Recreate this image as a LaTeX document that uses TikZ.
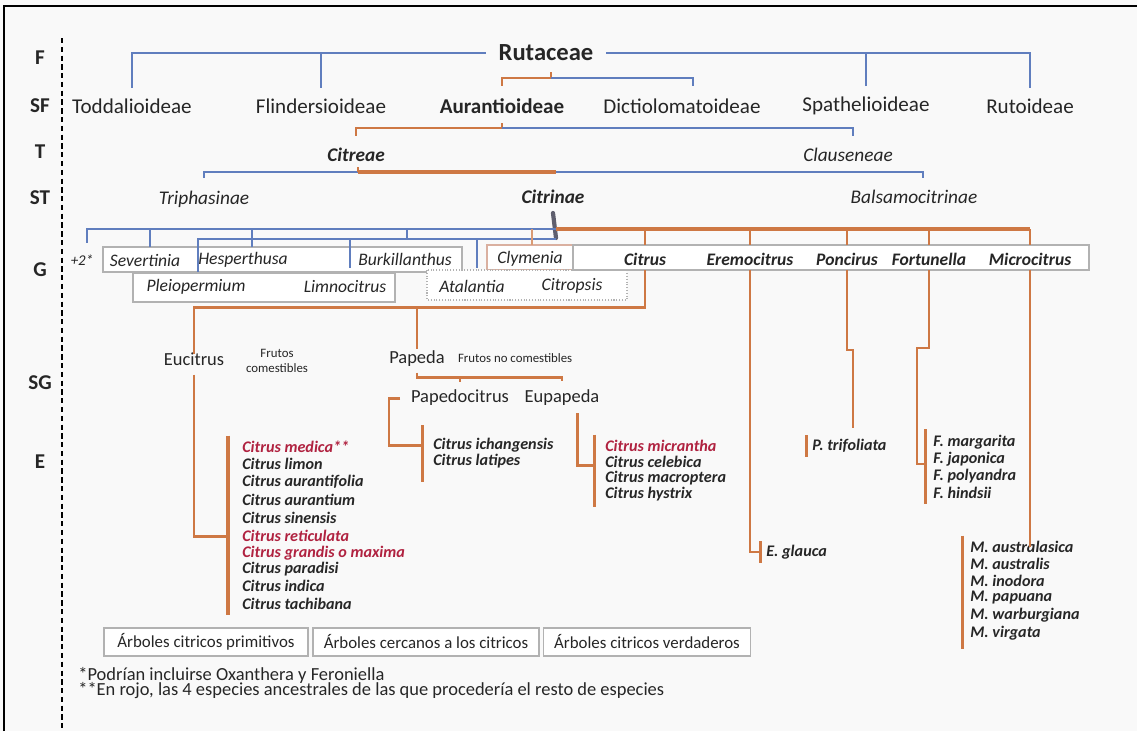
\documentclass[tikz,border=0pt]{standalone}
\usepackage{fontspec}
\setmainfont{Carlito}
\usetikzlibrary{positioning}

\definecolor{treeblue}{RGB}{96,126,190}
\definecolor{treeorange}{RGB}{206,120,68}
\definecolor{ancestral}{RGB}{176,34,64}
\definecolor{ink}{RGB}{38,38,38}
\definecolor{boxgray}{RGB}{178,178,178}
\definecolor{clymtan}{RGB}{218,176,160}
\definecolor{paper}{RGB}{249,249,249}
\definecolor{stemgray}{RGB}{95,95,110}

\tikzset{
	bl/.style={treeblue, line width=1.1pt},
	ol/.style={treeorange, line width=1pt},
	olthick/.style={treeorange, line width=1.7pt},
	sbar/.style={treeorange, line width=1.8pt},
	rowlab/.style={text=ink, font=\fontsize{12}{14}\selectfont\bfseries},
	famname/.style={text=ink, inner sep=7pt, font=\fontsize{14}{16}\selectfont\bfseries},
	subfam/.style={text=ink, inner sep=2pt, font=\fontsize{12}{14}\selectfont},
	tribe/.style={text=ink, inner sep=2pt, font=\fontsize{11}{13}\selectfont\itshape},
	genus/.style={text=ink, inner sep=1pt, font=\fontsize{10}{12}\selectfont\itshape},
	truegenus/.style={text=ink, inner sep=1pt, font=\fontsize{10}{12}\selectfont\bfseries\itshape},
	subgen/.style={text=ink, inner sep=2pt, font=\fontsize{10.5}{12}\selectfont},
	fruitnote/.style={text=ink, inner sep=1pt, align=center, font=\fontsize{7.3}{8.5}\selectfont},
	species/.style={text=ink, anchor=west, inner sep=0pt, font=\fontsize{9.2}{11}\selectfont\bfseries\itshape},
	genbox/.style={draw=boxgray, fill=white, line width=0.6pt},
	groupbox/.style={draw=boxgray, fill=white, line width=0.7pt, minimum height=0.56cm, inner sep=0pt, text=ink, font=\fontsize{9.6}{11}\selectfont},
	fnote/.style={text=ink, anchor=west, inner sep=0pt, font=\fontsize{10.5}{12}\selectfont},
}

\begin{document}
\begin{tikzpicture}[x=0.02cm,y=-0.02cm]
	\useasboundingbox (0,0) rectangle (1137,731);
	\fill[paper] (0,0) rectangle (1137,731);
	\draw[line width=1.6pt] (4,731) -- (4,6) -- (1137,6);
	\draw[line width=1.3pt, dash pattern=on 3pt off 2pt] (62,38) -- (62,731);
	\foreach \y/\t in {58/F,106/SF,152/T,198/ST,270/G,383/SG,462/E}
		\node[rowlab] (lab\t) at (40,\y) {\t};
	
	\node[famname] (rutaceae) at (546,53) {Rutaceae};
	\node[subfam] (toddal) at (132,106) {Toddalioideae};
	\node[subfam] (flinder) at (321,106) {Flindersioideae};
	\node[subfam, font=\fontsize{12}{14}\selectfont\bfseries] (auranti) at (502,106) {Aurantioideae};
	\node[subfam] (dictio) at (682,106) {Dictiolomatoideae};
	\node[subfam] (spathe) at (866,106) {Spathelioideae};
	\node[subfam] (rutoid) at (1030,106) {Rutoideae};
	\foreach \n in {toddal,flinder}
		\draw[bl] ([yshift=4pt]\n.north) |- (rutaceae.west);
	\foreach \n in {spathe,rutoid}
		\draw[bl] ([yshift=4pt]\n.north) |- (rutaceae.east);
	
	\coordinate (sfjoin) at (551,78);
	\draw[ol] ([yshift=5pt]auranti.north) |- (sfjoin) -- ++(0,-6);
	\draw[bl] (sfjoin) -| ([xshift=6pt,yshift=5pt]dictio.north);
	
	\node[tribe, font=\fontsize{11}{13}\selectfont\bfseries\itshape] (citreae) at (356,155) {Citreae};
	\node[tribe] (clausen) at (848,155) {Clauseneae};
	\coordinate (tjoin) at (502,128);
	\draw[ol] ([yshift=5pt]citreae.north) |- (tjoin) -- ++(0,-5);
	\draw[bl] (tjoin) -| ([xshift=3pt,yshift=5pt]clausen.north);
	
	\node[tribe] (triph) at (204,199) {Triphasinae};
	\node[tribe, font=\fontsize{11}{13}\selectfont\bfseries\itshape] (citrinae) at (553,197) {Citrinae};
	\node[tribe] (balsam) at (914,197) {Balsamocitrinae};
	\coordinate (stleft) at (358,172);
	\coordinate (stright) at (556,172);
	\draw[bl] ([yshift=5pt]triph.north) |- (stleft);
	\draw[treeorange, line width=2.2pt] (stleft) -- (stright);
	\draw[ol] (stleft) -- ++(0,-5);
	\draw[bl] (stright) -| ([xshift=5pt,yshift=5pt]balsam.north);
	\draw[stemgray, line width=2.4pt, line cap=round] ([yshift=-3pt]citrinae.south) -- (556,238);
	
	\draw[genbox] (103,247) rectangle (462,272);
	\draw[genbox] (133,273) rectangle (395,302);
	\draw[genbox, draw=clymtan] (487,245) rectangle (573,270);
	\draw[genbox, densely dotted] (427,270) rectangle (627,300);
	\draw[genbox] (573,245) rectangle (1089,270);
	\node[genus, font=\fontsize{8.5}{10}\selectfont\itshape] (plustwo) at (82,260) {+2*};
	\node[genus] (severt) at (145,260) {Severtinia};
	\node[genus] (hesper) at (243,260) {Hesperthusa};
	\node[genus] (burkill) at (405,259) {Burkillanthus};
	\node[genus] (pleio) at (196,287) {Pleiopermium};
	\node[genus] (limno) at (345,287) {Limnocitrus};
	\node[genus] (clymen) at (530,259) {Clymenia};
	\node[genus] (atalan) at (472,286) {Atalantia};
	\node[genus] (citrop) at (572,286) {Citropsis};
	\node[truegenus] (citrus) at (645,259) {Citrus};
	\node[truegenus] (eremo) at (750,259) {Eremocitrus};
	\node[truegenus] (poncirus) at (847,259) {Poncirus};
	\node[truegenus] (fortun) at (929,259) {Fortunella};
	\node[truegenus] (micro) at (1030,259) {Microcitrus};
	
	\coordinate (gjoin) at (556,229);
	\coordinate (gtop) at (0,245);
	\coordinate (gbot) at (0,270);
	\draw[bl] (gjoin) -- (87,229) -- (87,243);
	\foreach \x in {150,252}
		\draw[bl] (\x,229) -- (\x,247);
	\draw[bl] (407,229) -- (407,239);
	\draw[bl] (556,239) -- (198,239) -- (198,272);
	\draw[bl] (350,239) -- (350,268);
	\draw[bl] (477,239) -- (477,268);
	\draw[treeorange!75, line width=0.8pt] (532,229) -- (532,245);
	\draw[treeorange, line width=2pt] (gjoin) -- (micro |- gjoin);
	\foreach \g in {eremo,poncirus,fortun,micro}
		\draw[ol] (\g |- gjoin) -- (\g |- gtop);
	\draw[olthick] (citrus |- gjoin) -- (citrus |- gtop);
	
	\node[subgen] (eucitrus) at (194,359) {Eucitrus};
	\node[fruitnote] (eucnote) at (277,361) {Frutos\\comestibles};
	\node[subgen] (papeda) at (417,359) {Papeda};
	\node[fruitnote, anchor=west] (papnote) at (456,358) {Frutos no comestibles};
	\node[subgen] (papedo) at (460,398) {Papedocitrus};
	\node[subgen] (eupap) at (562,398) {Eupapeda};
	\coordinate (cjoin) at (645,307);
	\draw[olthick] (citrus |- gbot) -- (cjoin) -- (eucitrus |- cjoin) -- ([yshift=-3pt]eucitrus.north);
	\draw[olthick] (papeda |- cjoin) -- ([yshift=-1pt]papeda.north);
	
	\foreach \n/\y/\c/\t in {1/447/ancestral/Citrus medica**, 2/464/ink/Citrus limon, 3/482/ink/Citrus aurantifolia, 4/500/ink/Citrus aurantium, 5/518/ink/Citrus sinensis, 6/536/ancestral/Citrus reticulata, 7/553/ancestral/Citrus grandis o maxima, 8/569/ink/Citrus paradisi, 9/586/ink/Citrus indica, 10/604/ink/Citrus tachibana}
		\node[species, text=\c] (euc\n) at (242,\y) {\t};
	\draw[sbar] ([xshift=-8pt,yshift=3pt]euc1.north west) -- ([xshift=-8pt,yshift=-3pt]euc10.south west);
	\draw[olthick] ([yshift=-3pt]eucitrus.south) |- ([xshift=-8pt]euc6.west);
	
	\coordinate (pbar) at (0,377);
	\draw[olthick] ([yshift=-1pt]papeda.south) |- (eupap.north |- pbar) -- ([yshift=3pt]eupap.north);
	\draw[olthick] (papedo.north |- pbar) -- ++(0,5);
	
	\foreach \n/\y/\t in {1/445/Citrus ichangensis, 2/461/Citrus latipes}
		\node[species] (pap\n) at (433,\y) {\t};
	\coordinate (pdcorner) at (389,445);
	\draw[sbar] ([xshift=-6pt,yshift=7pt]pap1.north west) -- ([xshift=-6pt,yshift=-8pt]pap2.south west);
	\draw[olthick] ([xshift=-4pt]papedo.west) -| (pdcorner) -- ([xshift=-6pt]pap1.west);
	
	\foreach \n/\y/\c/\t in {1/446/ancestral/Citrus micrantha, 2/462/ink/Citrus celebica, 3/478/ink/Citrus macroptera, 4/494/ink/Citrus hystrix}
		\node[species, text=\c] (eup\n) at (605,\y) {\t};
	\draw[sbar] ([xshift=-6pt,yshift=3pt]eup1.north west) -- ([xshift=-6pt,yshift=-3pt]eup4.south west);
	\draw[olthick] ([xshift=9pt,yshift=-2pt]eupap.south) |- ([xshift=-6pt,yshift=-2pt]eup2.west);
	
	\node[species] (eglauca) at (766,552) {E. glauca};
	\draw[ol] (eremo |- gbot) |- ([xshift=-3pt]eglauca.west);
	\draw[sbar] ([xshift=-3pt,yshift=6pt]eglauca.west) -- ([xshift=-3pt,yshift=-6pt]eglauca.west);
	
	\node[species] (ptrif) at (812,446) {P. trifoliata};
	\coordinate (poncorner) at (853,350);
	\coordinate (ponend) at (853,428);
	\draw[ol] (poncirus |- gbot) |- (poncorner) -- (ponend);
	\draw[sbar] ([xshift=-3pt,yshift=6pt]ptrif.west) -- ([xshift=-3pt,yshift=-6pt]ptrif.west);
	
	\foreach \n/\y/\t in {1/442/F. margarita, 2/459/F. japonica, 3/476/F. polyandra, 4/493/F. hindsii}
		\node[species] (fort\n) at (933,\y) {\t};
	\coordinate (fortcorner) at (917,348);
	\draw[sbar] ([xshift=-4.5pt,yshift=3pt]fort1.north west) -- ([xshift=-4.5pt,yshift=-3pt]fort4.south west);
	\draw[ol] (fortun |- gbot) |- (fortcorner) |- ([xshift=-4.5pt,yshift=-3pt]fort2.west);
	
	\foreach \n/\y/\t in {1/547/M. australasica, 2/564/M. australis, 3/581/M. inodora, 4/598/M. papuana, 5/615/M. warburgiana, 6/633/M. virgata}
		\node[species] (micro\n) at (970,\y) {\t};
	\draw[sbar] ([xshift=-4.5pt,yshift=3pt]micro1.north west) -- ([xshift=-4.5pt,yshift=-5pt]micro6.south west);
	\draw[ol] (micro |- gbot) -- (micro |- micro1);
	
	\node[groupbox, minimum width=4.08cm] (primit) at (206,642) {Árboles citricos primitivos};
	\node[groupbox, minimum width=4.52cm] (cercan) at (426,642) {Árboles cercanos a los citricos};
	\node[groupbox, minimum width=4.14cm] (verdad) at (647,642) {Árboles citricos verdaderos};
	
	\node[fnote] (fn1) at (78,675) {*Podrían incluirse Oxanthera y Feroniella};
	\node[fnote] (fn2) at (78,691) {**En rojo, las 4 especies ancestrales de las que procedería el resto de especies};
\end{tikzpicture}
\end{document}
